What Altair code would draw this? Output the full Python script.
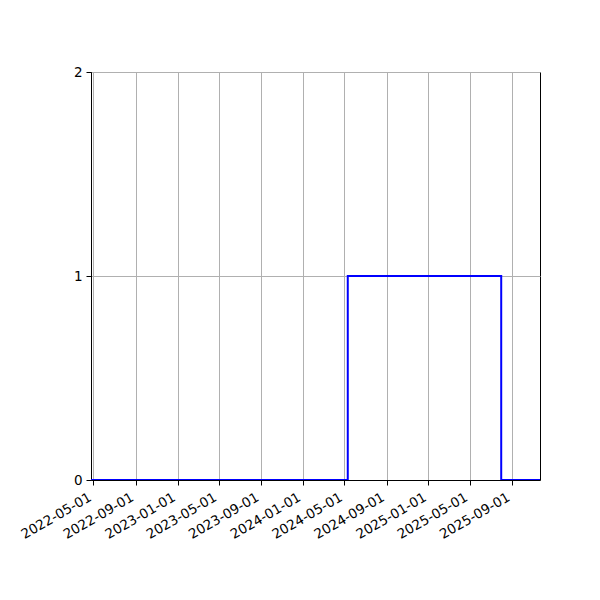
import altair as alt
import pandas as pd

dates = ["2022-04-24", "2024-05-11", "2025-08-01", "2025-11-22"]
values = [0, 1, 0, 0]
tick_dates = ["2022-05-01", "2022-09-01", "2023-01-01", "2023-05-01", "2023-09-01",
              "2024-01-01", "2024-05-01", "2024-09-01", "2025-01-01", "2025-05-01",
              "2025-09-01"]
y_ticks = [0, 1, 2]

df = pd.DataFrame({"date": dates, "value": values})

def ms(d):
    return int(pd.Timestamp(d, tz="UTC").timestamp() * 1000)

tick_ms = [ms(d) for d in tick_dates]
domain = [ms(dates[0]), ms(dates[-1])]

chart = alt.Chart(df).mark_line(
    color="#0000ff", strokeWidth=2, interpolate="step-after", clip=True
).encode(
    x=alt.X("date:T",
            scale=alt.Scale(type="utc", domain=domain, nice=False),
            axis=alt.Axis(values=tick_ms, labelExpr="utcFormat(datum.value, '%Y-%m-%d')",
                          labelAngle=-30, labelAlign="right", labelBaseline="top",
                          title=None, grid=True, gridColor="#b0b0b0", gridWidth=1,
                          tickColor="black", tickSize=5, domainColor="black",
                          labelFont="DejaVu Sans", labelFontSize=13.5, labelColor="black",
                          labelPadding=5, labelOffset=-7, labelOverlap=False,
                          labelFlush=False, tickCount=20)),
    y=alt.Y("value:Q",
            scale=alt.Scale(domain=[0, 2], nice=False),
            axis=alt.Axis(values=y_ticks, tickCount=10, labelExpr="'' + round(datum.value)",
                          title=None, grid=True,
                          gridColor="#b0b0b0", gridWidth=1,
                          tickColor="black", tickSize=5, domainColor="black",
                          labelFont="DejaVu Sans", labelFontSize=13.5, labelColor="black",
                          labelPadding=4, labelOverlap=False, labelFlush=False)),
).properties(
    width=449, height=408,
    autosize=alt.AutoSizeParams(type="none"),
    padding={"left": 83, "top": 64, "right": 52, "bottom": 112},
).configure_view(stroke="black", strokeWidth=1).configure_axis(domainWidth=1, tickWidth=1)

chart.save("out.html", embed_options={"renderer": "svg", "actions": False})
